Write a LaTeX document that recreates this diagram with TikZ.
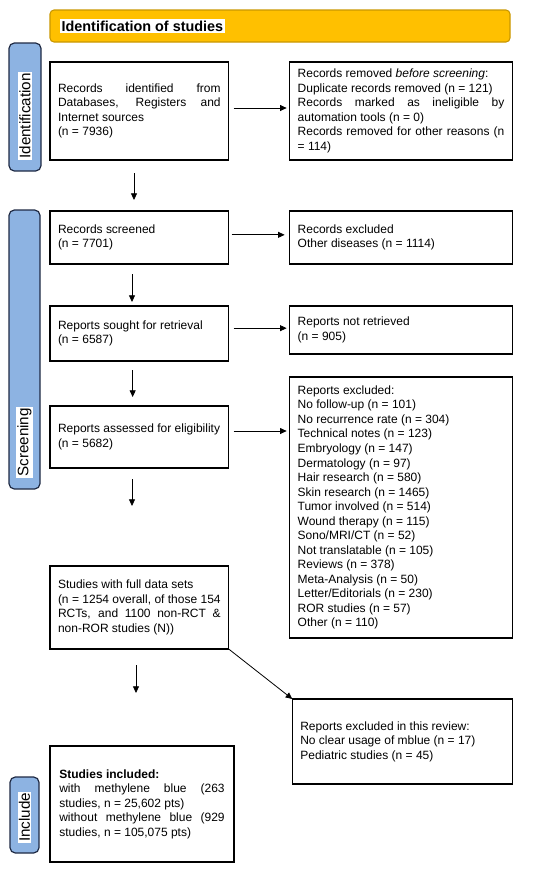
\documentclass[tikz,border=0pt]{standalone}
\usepackage{fontspec}
\setmainfont{Liberation Sans}
\usepackage{xcolor}
\usepackage{tikz}
\usetikzlibrary{arrows.meta, positioning}
\definecolor{bannerfill}{HTML}{FFC000}
\definecolor{bannerline}{HTML}{C99700}
\definecolor{phasefill}{HTML}{8DB3E2}
\definecolor{phaseline}{HTML}{1F2A44}
\tikzset{
  banner/.style={rectangle, rounded corners=3pt, draw=bannerline, fill=bannerfill, line width=0.8pt, outer sep=0pt, minimum width=345pt, minimum height=24pt},
  bannertitle/.style={fill=white, inner sep=1pt, font=\fontsize{10.8}{13}\selectfont\bfseries},
  phase/.style={rectangle, rounded corners=4pt, draw=phaseline, fill=phasefill, line width=0.9pt, outer sep=0pt, minimum width=23.5pt},
  phaselabel/.style={fill=white, inner sep=0.8pt, rotate=90, anchor=west, font=\fontsize{11.4}{13}\selectfont},
  box/.style={rectangle, draw=black, line width=0.9pt, outer sep=0pt, align=justify, inner xsep=6pt, inner ysep=2pt, font=\fontsize{9}{10.9}\selectfont},
  leftbox/.style={box, text width=122pt},
  rightbox/.style={box, text width=155pt},
  arrow/.style={-{Triangle[length=5pt, width=4.5pt]}, line width=0.6pt},
}
\begin{document}
\begin{tikzpicture}
\useasboundingbox (0,0) rectangle (412.5pt,-651.75pt);
\node[banner, anchor=north west] (banner) at (37.5pt,-7.5pt) {};
\node[bannertitle, right=7.5pt of banner.west] (bannertext) {Identification of studies};
\node[leftbox, minimum height=73.5pt, below right=15pt and 0pt of banner.south west] (identified) {Records identified from\linebreak Databases, Registers and\linebreak Internet sources\\ (n = 7936)};
\node[rightbox, minimum height=73.5pt, right=45.75pt of identified] (removed) {Records removed \emph{before screening}:\\ Duplicate records removed (n = 121)\\ Records marked as ineligible by\linebreak automation tools (n = 0)\\ Records removed for other reasons (n\linebreak = 114)};
\node[leftbox, minimum height=39.75pt, below=38.25pt of identified] (screened) {Records screened\\ (n = 7701)};
\node[rightbox, minimum height=39.75pt, right=45.75pt of screened] (excluded) {Records excluded\\ Other diseases (n = 1114)};
\node[leftbox, minimum height=41.25pt, below=31.5pt of screened] (sought) {Reports sought for retrieval\\ (n = 6587)};
\node[rightbox, minimum height=36pt, below right=0pt and 45.75pt of sought.north east] (notretrieved) {Reports not retrieved\\ (n = 905)};
\node[leftbox, minimum height=46.5pt, below=33.75pt of sought] (assessed) {Reports assessed for eligibility\\ (n = 5682)};
\node[rightbox, minimum height=195.75pt, below=17.25pt of notretrieved] (reportsexcl) {Reports excluded:\\ No follow-up (n = 101)\\ No recurrence rate (n = 304)\\ Technical notes (n = 123)\\ Embryology (n = 147)\\ Dermatology (n = 97)\\ Hair research (n = 580)\\ Skin research (n = 1465)\\ Tumor involved (n = 514)\\ Wound therapy (n = 115)\\ Sono/MRI/CT (n = 52)\\ Not translatable (n = 105)\\ Reviews (n = 378)\\ Meta-Analysis (n = 50)\\ Letter/Editorials (n = 230)\\ ROR studies (n = 57)\\ Other (n = 110)};
\node[leftbox, minimum height=62.25pt, below=73.5pt of assessed] (fulldata) {Studies with full data sets\\ (n = 1254 overall, of those 154\linebreak RCTs, and 1100 non-RCT \&\linebreak non-ROR studies (N))};
\node[box, text width=153pt, minimum height=63.75pt, below left=45.75pt and 0pt of reportsexcl.south east] (reviewexcl) {Reports excluded in this review:\\ No clear usage of mblue (n = 17)\\ Pediatric studies (n = 45)};
\node[box, text width=124pt, inner xsep=7pt, minimum height=87pt, below right=72.75pt and 0pt of fulldata.south west] (included) {\textbf{Studies included:}\\ with methylene blue (263\linebreak studies, n = 25,602 pts)\\ without methylene blue (929\linebreak studies, n = 105,075 pts)};
\node[phase, minimum width=24pt, minimum height=96pt, below left=0.75pt and 6.75pt of banner.south west] (idphase) {};
\node[phaselabel] (idlabel) at ([yshift=8.25pt]idphase.south) {Identification};
\node[phase, minimum width=23.25pt, minimum height=209.25pt, below left=-0.75pt and 7.5pt of screened.north west] (scrphase) {};
\node[phaselabel] (scrlabel) at ([yshift=8.25pt]scrphase.south) {Screening};
\node[phase, minimum width=21.75pt, minimum height=57pt, below left=23.25pt and 8.25pt of included.north west] (incphase) {};
\node[phaselabel] (inclabel) at ([yshift=7.5pt]incphase.south) {Include};
\draw[arrow, shorten <=3.75pt, shorten >=2.25pt] ([yshift=2.25pt]identified.east) -- ([yshift=2.25pt]removed.west);
\draw[arrow, shorten <=2.25pt, shorten >=3.75pt] ([yshift=2pt]screened.east) -- ([yshift=2pt]excluded.west);
\draw[arrow, shorten <=3.75pt, shorten >=2.25pt] ([yshift=4pt]sought.east) -- ([yshift=4pt]sought.east -| notretrieved.west);
\draw[arrow, shorten <=3.75pt, shorten >=2.25pt] ([yshift=4.5pt]assessed.east) -- ([yshift=4.5pt]assessed.east -| reportsexcl.west);
\draw[arrow, shorten <=9.75pt, shorten >=8.25pt] ([xshift=-4pt]identified.south) -- ([xshift=-4pt]screened.north);
\draw[arrow, shorten <=7.5pt, shorten >=3pt] ([xshift=-5.5pt]screened.south) -- ([xshift=-5.5pt]sought.north);
\draw[arrow, shorten <=6.75pt, shorten >=6.75pt] ([xshift=-5pt]sought.south) -- ([xshift=-5pt]assessed.north);
\draw[arrow, shorten <=8.25pt, shorten >=45pt] ([xshift=-5.5pt]assessed.south) -- ([xshift=-5.5pt]fulldata.north);
\draw[arrow, shorten <=12pt, shorten >=39.75pt] ([xshift=-2.5pt]fulldata.south) -- ([xshift=-2.5pt]fulldata.south |- included.north);
\draw[arrow] (fulldata.south east) -- (reviewexcl.north west);
\end{tikzpicture}
\end{document}
